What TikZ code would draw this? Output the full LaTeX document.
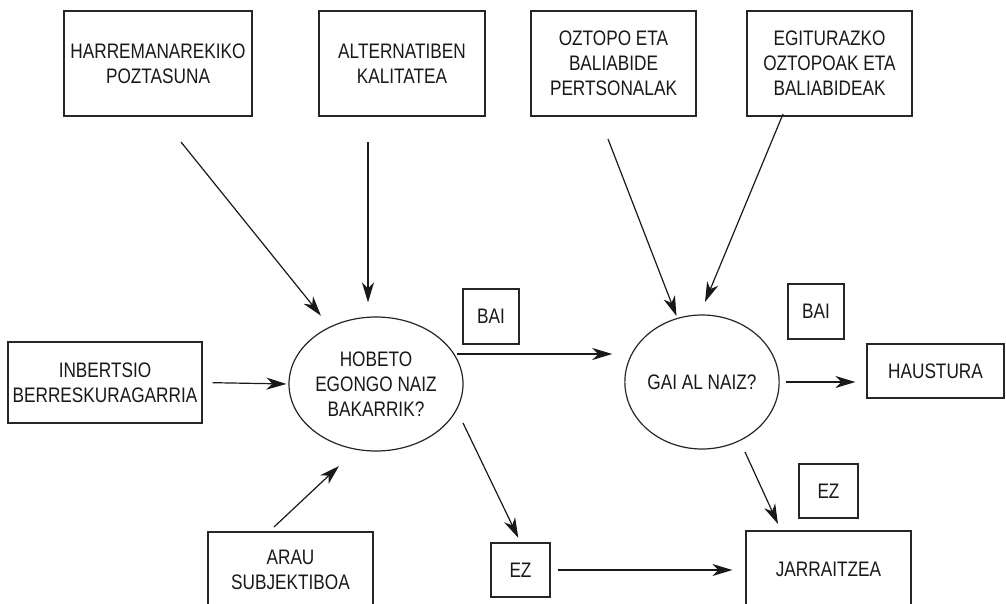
\documentclass[tikz,border=0pt]{standalone}
\usepackage{fontspec}
\setmainfont[FakeStretch=0.82]{Liberation Sans}
\usetikzlibrary{arrows.meta,shapes.geometric}
\begin{document}
\begin{tikzpicture}[x=1pt,y=-1pt,
  txt/.style={font=\fontsize{21}{25}\selectfont, align=center, text=black!90},
  box/.style={txt, draw=black!85, line width=1.2pt, rectangle, inner sep=0pt},
  oval/.style={txt, draw=black!85, line width=1.2pt, ellipse, inner sep=0pt},
  arr/.style={draw=black!90, line width=1.2pt, -{Stealth[length=20pt,width=12pt,inset=6pt]}}
]
\useasboundingbox (0,0) rectangle (1006,603);
\clip (0,0) rectangle (1006,603);
\fill[white] (0,0) rectangle (1006,603);

% top row
\node[box, minimum width=188pt, minimum height=105pt] (harr) at (158,63.5) {HARREMANAREKIKO\\POZTASUNA};
\node[box, minimum width=166pt, minimum height=105pt] (alt) at (402,63.5) {ALTERNATIBEN\\KALITATEA};
\node[box, minimum width=165pt, minimum height=105pt] (ozt) at (613.5,63.5) {OZTOPO ETA\\BALIABIDE\\PERTSONALAK};
\node[box, minimum width=165pt, minimum height=105pt] (egit) at (829.5,63.5) {EGITURAZKO\\OZTOPOAK ETA\\BALIABIDEAK};

% middle row
\node[box, minimum width=194pt, minimum height=81pt] (inb) at (105,382.5) {INBERTSIO\\BERRESKURAGARRIA};
\node[oval, minimum width=174pt, minimum height=134pt] (hob) at (376,384) {HOBETO\\EGONGO NAIZ\\BAKARRIK?};
\node[box, minimum width=56pt, minimum height=55pt] (bai1) at (491,316.5) {BAI};
\node[oval, minimum width=150pt, minimum height=134pt] (gai) at (702,382) {GAI AL NAIZ?};
\node[box, minimum width=56pt, minimum height=55pt] (bai2) at (816,311.5) {BAI};
\node[box, minimum width=137pt, minimum height=54pt] (haus) at (935.5,371) {HAUSTURA};

% bottom row
\node[box, minimum width=165pt, minimum height=76pt] (arau) at (290.5,570) {ARAU\\SUBJEKTIBOA};
\node[box, minimum width=59pt, minimum height=54pt] (ez1) at (520.5,570) {EZ};
\node[box, minimum width=59pt, minimum height=54pt] (ez2) at (828.5,491) {EZ};
\node[box, minimum width=165pt, minimum height=76pt] (jarr) at (828.5,569) {JARRAITZEA};

% free ends of connectors
\coordinate (s1) at (181,142);
\coordinate (s2) at (368,142);
\coordinate (s3) at (608,139);
\coordinate (s4) at (783,114);
\coordinate (e4) at (705,302);
\coordinate (s6) at (274,527);
\coordinate (e6) at (339,466);
\coordinate (s7) at (463,423);
\coordinate (s8) at (457,354);
\coordinate (s10) at (745,452);
\coordinate (e10) at (778,524);

% connectors
\draw[arr, shorten >=14pt] (s1) -- (hob);
\draw[arr, shorten >=14pt] (s2) -- (s2 |- hob.north);
\draw[arr, shorten >=2pt] (s3) -- (gai);
\draw[arr] (s4) -- (e4);
\draw[arr, shorten <=10pt, shorten >=2pt] (inb.east) -- (hob.west);
\draw[arr] (s6) -- (e6);
\draw[arr, shorten >=5pt] (s7) -- (ez1.north);
\draw[arr, shorten >=12pt] (s8) -- (s8 -| gai.west);
\draw[arr, shorten <=6pt, shorten >=11pt] (gai.east) -- (gai.east -| haus.west);
\draw[arr] (s10) -- (e10);
\draw[arr, shorten <=7pt, shorten >=13pt] (ez1.east) -- (ez1.east -| jarr.west);
\end{tikzpicture}
\end{document}
